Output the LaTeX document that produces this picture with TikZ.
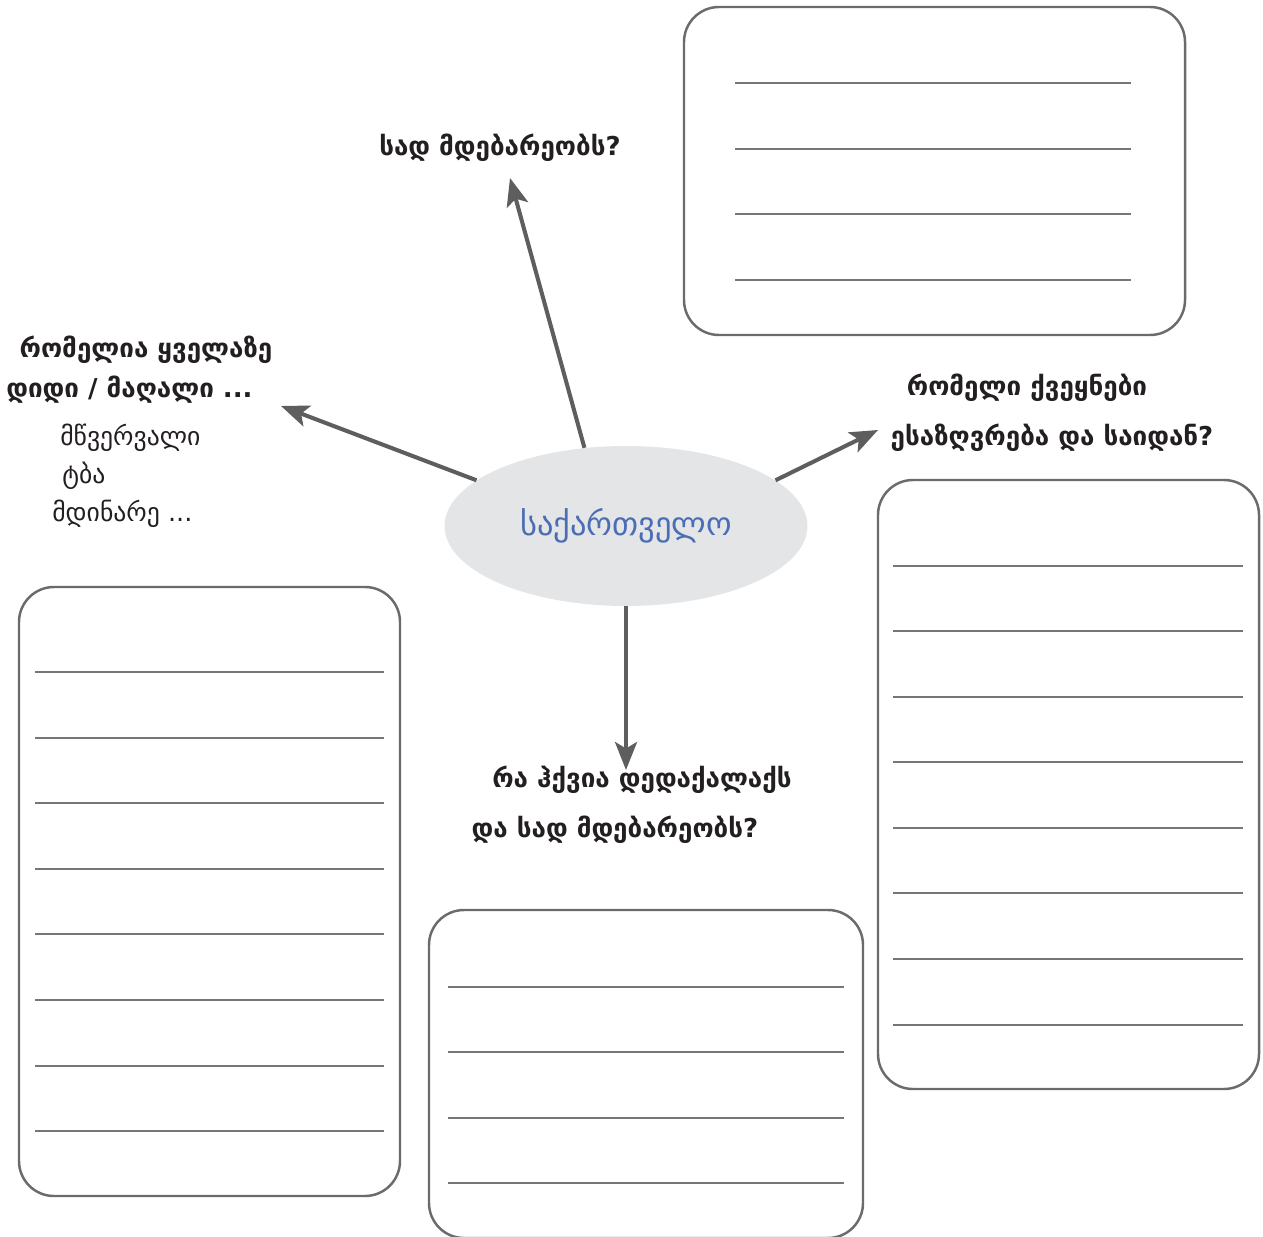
\documentclass[tikz,border=0pt]{standalone}
\usepackage{fontspec}
\setmainfont{DejaVu Sans}
\usepackage{tikz}
\usetikzlibrary{arrows.meta,shapes.geometric}
\definecolor{arrowgray}{HTML}{5E5E5E}
\definecolor{boxgray}{HTML}{6B6B6B}
\definecolor{linegray}{HTML}{767676}
\definecolor{blobfill}{HTML}{E4E5E7}
\definecolor{titleblue}{HTML}{4A6DB5}
\definecolor{ink}{HTML}{231F20}

\begin{document}
\begin{tikzpicture}[x=0.02cm,y=-0.02cm,
  spoke/.style={arrowgray,line width=2.3pt,-{Stealth[length=5.6mm,width=4.4mm,inset=1.3mm]}},
  card/.style={boxgray,line width=1.4pt,rounded corners=0.7cm},
  rule/.style={linegray,line width=1.1pt},
  ask/.style={font=\fontsize{14.8}{17}\selectfont\bfseries,text=ink,inner sep=0pt},
  hint/.style={font=\fontsize{14.6}{17}\selectfont,text=ink,inner sep=0pt}]
\useasboundingbox (0,0) rectangle (1263,1236);

% ---- centre
\node[ellipse,fill=blobfill,minimum width=7.26cm,minimum height=3.2cm,inner sep=0pt,
  font=\fontsize{18.5}{20}\selectfont,text=titleblue] (geo) at (626,526) {საქართველო};

% ---- questions
\node[ask] (qwhere) at (500,148) {სად მდებარეობს?};
\node[ask] (qbig1) at (146,350) {რომელია ყველაზე};
\node[ask,anchor=west] (qbig2) at (6,390) {დიდი / მაღალი ...};
\node[hint,anchor=west] (peak) at (60,438) {მწვერვალი};
\node[hint,anchor=west] (lake) at (62,476) {ტბა};
\node[hint,anchor=west] (river) at (52,514) {მდინარე ...};
\node[ask] (qborder1) at (1027,388) {რომელი ქვეყნები};
\node[ask] (qborder2) at (1052,438) {ესაზღვრება და საიდან?};
\node[ask] (qcap1) at (642,780) {რა ჰქვია დედაქალაქს};
\node[ask] (qcap2) at (615,830) {და სად მდებარეობს?};

% ---- spokes
\coordinate (tipN) at (510,178);
\coordinate (tipW) at (281,406);
\coordinate (tipE) at (878,430);
\coordinate (tipS) at (626,770);
\draw[spoke] (geo.118) -- (tipN);
\draw[spoke] (geo.163) -- (tipW);
\draw[spoke] (geo.17) -- (tipE);
\draw[spoke] (geo.south) -- (tipS);

% ---- answer cards
\draw[card] (684,7) rectangle (1185,335);
\foreach \y in {83,149,214,280} \draw[rule] (735,\y) -- (1131,\y);

\draw[card] (878,480) rectangle (1259,1089);
\foreach \y in {566,631,697,762,828,893,959,1025} \draw[rule] (893,\y) -- (1243,\y);

\draw[card] (19,587) rectangle (400,1196);
\foreach \y in {672,738,803,869,934,1000,1066,1131} \draw[rule] (35,\y) -- (384,\y);

\draw[card] (429,910) rectangle (863,1238);
\foreach \y in {987,1052,1118,1183} \draw[rule] (448,\y) -- (844,\y);
\end{tikzpicture}
\end{document}
